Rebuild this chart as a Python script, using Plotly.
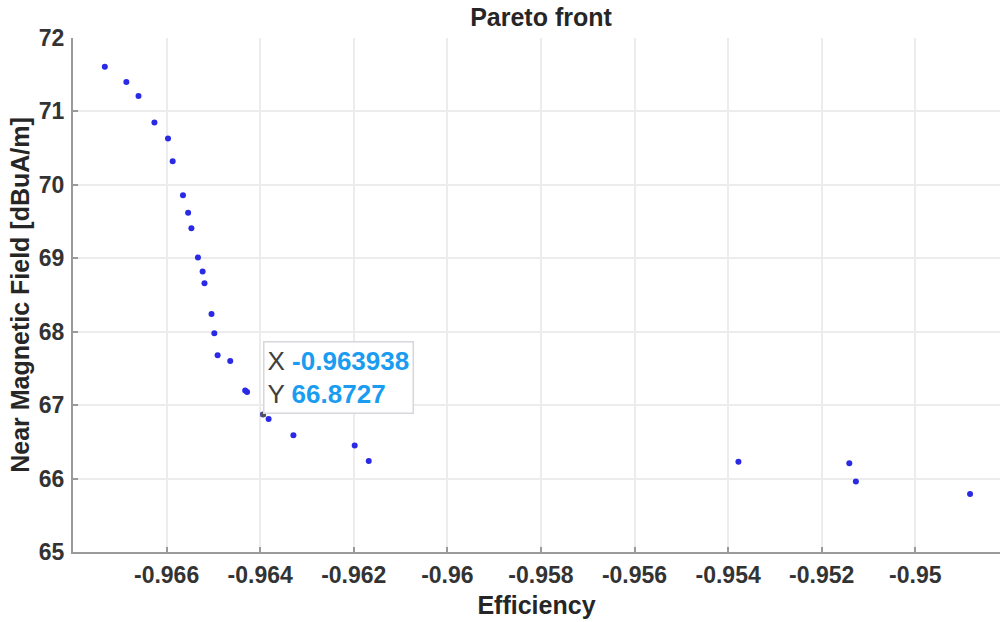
import plotly.graph_objects as go

# Pareto front data
efficiency = [
    -0.96732, -0.96686, -0.96660, -0.96626, -0.96597, -0.96587,
    -0.96565, -0.96554, -0.96547, -0.96533, -0.96523, -0.96519,
    -0.96504, -0.96498, -0.96491, -0.96464, -0.96432, -0.96428,
    -0.963938, -0.96382, -0.96329, -0.96198, -0.96168, -0.95378,
    -0.95141, -0.95127, -0.94883,
]
near_field = [
    71.61, 71.40, 71.21, 70.85, 70.63, 70.32,
    69.86, 69.62, 69.41, 69.01, 68.82, 68.66,
    68.24, 67.98, 67.68, 67.60, 67.20, 67.18,
    66.8727, 66.81, 66.59, 66.45, 66.24, 66.23,
    66.21, 65.96, 65.79,
]

# Data tip
tip_x = [-0.963938]
tip_y = [66.8727]

x_tickvals = [-0.966, -0.964, -0.962, -0.960, -0.958, -0.956, -0.954, -0.952, -0.950]
x_ticktext = ["-0.966", "-0.964", "-0.962", "-0.96", "-0.958", "-0.956", "-0.954", "-0.952", "-0.95"]
y_tickvals = [65, 66, 67, 68, 69, 70, 71, 72]
y_ticktext = ["65", "66", "67", "68", "69", "70", "71", "72"]

FONT = "Liberation Sans, Arial, sans-serif"
TXT = "#262626"
AXC = "#9a9a9a"
GRID = "#ececec"

fig = go.Figure()
fig.add_trace(go.Scatter(
    x=efficiency, y=near_field, mode="markers",
    marker=dict(color="#2a2ae6", size=6, line=dict(width=0)),
    name="Pareto front", showlegend=False,
))
fig.add_trace(go.Scatter(
    x=tip_x, y=tip_y, mode="markers",
    marker=dict(color="#555555", size=5, symbol="square", line=dict(width=0)),
    showlegend=False,
))

fig.add_annotation(
    x=tip_x[0], y=tip_y[0], xref="x", yref="y",
    xanchor="left", yanchor="bottom", showarrow=False, align="left",
    text=(f"X <b><span style='color:#1a9cf0'>{tip_x[0]:.6f}</span></b><br>"
          f"Y <b><span style='color:#1a9cf0'>{tip_y[0]:.4f}</span></b>"),
    font=dict(family=FONT, size=26, color="#404040"),
    bgcolor="rgba(255,255,255,0.92)", bordercolor="#d6d6dc", borderwidth=1.5, borderpad=3,
)

fig.update_layout(
    width=1000, height=622,
    margin=dict(l=73, r=0, t=38, b=70),
    paper_bgcolor="white", plot_bgcolor="white",
    title=dict(text="<b>Pareto front</b>", x=0.541, xref="container", xanchor="center",
               y=1 - 17 / 622, yref="container", yanchor="middle",
               font=dict(family=FONT, size=25, color=TXT)),
    font=dict(family=FONT, color=TXT),
)
fig.update_xaxes(
    range=[-0.968, -0.94819], autorange=False,
    tickvals=x_tickvals, ticktext=x_ticktext,
    tickfont=dict(family=FONT, size=23, color="#333333", weight="bold"),
    showgrid=True, gridcolor=GRID, gridwidth=1.5,
    showline=True, linecolor=AXC, linewidth=2,
    ticks="inside", ticklen=5, tickcolor=AXC, tickwidth=1.5,
    zeroline=False, automargin=False, ticklabelstandoff=1,
    title=dict(text="<b>Efficiency</b>", font=dict(family=FONT, size=25, color=TXT), standoff=10),
)
fig.update_yaxes(
    range=[65, 72], autorange=False,
    tickvals=y_tickvals, ticktext=y_ticktext,
    tickfont=dict(family=FONT, size=23, color="#333333", weight="bold"),
    showgrid=True, gridcolor=GRID, gridwidth=1.5,
    showline=True, linecolor=AXC, linewidth=2,
    ticks="inside", ticklen=5, tickcolor=AXC, tickwidth=1.5,
    zeroline=False, automargin=False, ticklabelstandoff=2,
    title=dict(text="<b>Near Magnetic Field [dBuA/m]</b>", font=dict(family=FONT, size=25, color=TXT), standoff=2),
)

fig.write_html("out.html")
